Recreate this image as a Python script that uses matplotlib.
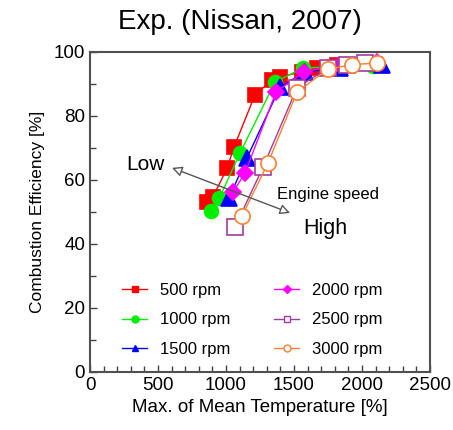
import matplotlib
matplotlib.use("Agg")
import matplotlib.pyplot as plt
from matplotlib.ticker import MultipleLocator

plt.rcParams['font.family'] = ['Liberation Sans', 'DejaVu Sans']

# Data
x500 = [860, 904, 1007, 1059, 1213, 1338, 1397, 1559, 1669, 1816]
y500 = [53, 54.7, 63.6, 70.3, 86.6, 91.2, 92.2, 93.8, 95, 96]
x1000 = [887, 952, 1103, 1360, 1566, 1750, 2081]
y1000 = [50.3, 54.4, 68.4, 90.6, 95, 95.3, 95.6]
x1500 = [1022, 1154, 1397, 1581, 1838, 2147]
y1500 = [54.4, 66.9, 89.0, 93.8, 95.0, 95.8]
x2000 = [1051, 1140, 1368, 1573, 1838, 2110]
y2000 = [56.2, 62.2, 87.5, 93.8, 96.0, 96.8]
x2500 = [1066, 1272, 1522, 1750, 1890, 2022]
y2500 = [45.3, 64.0, 88.8, 95.0, 96.0, 96.6]
x3000 = [1118, 1309, 1522, 1750, 1926, 2110]
y3000 = [48.8, 65.3, 87.5, 94.7, 96.0, 96.6]
labels = ['500 rpm', '1000 rpm', '1500 rpm', '2000 rpm', '2500 rpm', '3000 rpm']

fig = plt.figure(figsize=(4.53, 4.30), dpi=100)
ax = fig.add_axes([90/453, 58/430, 340/453, 320/430])

series = [
    (x500, y500, dict(color='#ff0000', marker='s', ms=10.5, mfc='#ff0000', mec='#ff0000')),
    (x1000, y1000, dict(color='#00ee00', marker='o', ms=10, mfc='#00ee00', mec='#00ee00')),
    (x1500, y1500, dict(color='#0000ff', marker='^', ms=11, mfc='#0000ff', mec='#0000ff')),
    (x2000, y2000, dict(color='#ff00ff', marker='D', ms=8, mfc='#ff00ff', mec='#ff00ff')),
    (x2500, y2500, dict(color='#a03ca0', marker='s', ms=11, mfc='white', mec='#a03ca0')),
    (x3000, y3000, dict(color='#ff8030', marker='o', ms=11, mfc='white', mec='#ff8030')),
]
handles = []
for (xs, ys, st), lab in zip(series, labels):
    ax.plot(xs, ys, lw=1.0, mew=1.2, **st)
    hst = dict(st)
    hst['ms'] = 5 if st['marker'] != 'D' else 4
    h, = ax.plot([], [], lw=1.0, mew=1.0, label=lab, **hst)
    handles.append(h)

ax.set_xlim(0, 2500)
ax.set_ylim(0, 100)
ax.xaxis.set_major_locator(MultipleLocator(500))
ax.xaxis.set_minor_locator(MultipleLocator(100))
ax.yaxis.set_major_locator(MultipleLocator(20))
ax.yaxis.set_minor_locator(MultipleLocator(10))
ax.tick_params(which='both', direction='in', top=False, right=False,
               colors='#404040', labelcolor='black', labelsize=13.5)
ax.tick_params(which='major', length=5, width=1)
ax.tick_params(which='minor', length=4, width=1)
for s in ax.spines.values():
    s.set_color('#505050')
    s.set_linewidth(1.5)

ax.set_xlabel('Max. of Mean Temperature [%]', fontsize=13.5, labelpad=4)
ax.set_ylabel('Combustion Efficiency [%]', fontsize=12.5, labelpad=6)

fig.text(240/453, 1 - 22/430, 'Exp. (Nissan, 2007)', fontsize=20,
         ha='center', va='center')

ax.annotate('', xy=(603, 63.8), xytext=(1471, 49.7),
            arrowprops=dict(arrowstyle='<|-|>', color='#555555', lw=1.0,
                            fc='white', mutation_scale=15, shrinkA=0, shrinkB=0))
ax.text(404, 64.7, 'Low', fontsize=15, ha='center', va='center')
ax.text(1375, 55.6, 'Engine speed', fontsize=12, ha='left', va='center')
ax.text(1566, 44.7, 'High', fontsize=15.5, ha='left', va='center')

ax.legend(handles=handles, ncol=2, frameon=False, fontsize=12,
          loc='lower left', bbox_to_anchor=(122/453, 1 - 357/430),
          bbox_transform=fig.transFigure, borderpad=0, borderaxespad=0,
          handlelength=1.5, handletextpad=0.8, columnspacing=2.6,
          labelspacing=0.88)

fig.savefig('out.png', dpi=100)
